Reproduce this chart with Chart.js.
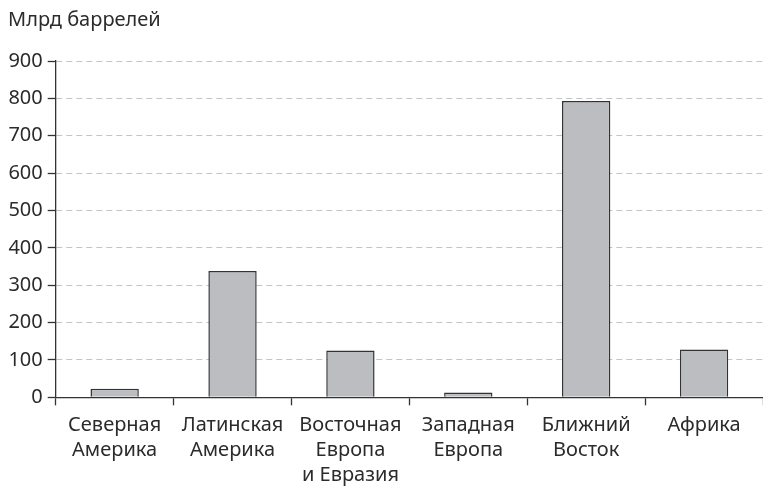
<!DOCTYPE html>
<html><head><meta charset="utf-8">
<script src="https://cdn.jsdelivr.net/npm/chart.js@4"></script>
<style>html,body{margin:0;padding:0;background:#fff;}#wrap{width:763px;height:486px;}</style>
</head><body><div id="wrap"><canvas id="c"></canvas></div>
<script>
const categories = [["Северная","Америка"],["Латинская","Америка"],["Восточная","Европа","и Евразия"],["Западная","Европа"],["Ближний","Восток"],["Африка"]];
const values = [23, 338, 125, 13, 793, 128];
const yTicks = [0,100,200,300,400,500,600,700,800,900];
const unitLabel = "Млрд баррелей";
const FONT = "'Noto Sans', sans-serif";
const TXT = "#2b2b2b";
new Chart(document.getElementById('c'), {
  type: 'bar',
  data: { labels: categories, datasets: [{ data: values, backgroundColor: '#bcbdc1', borderColor: '#333', borderWidth: 1.5, categoryPercentage: 1, barPercentage: 0.41 }] },
  options: {
    responsive: true, maintainAspectRatio: false, animation: false,
    layout: { padding: { left: 8, right: 0, top: 0, bottom: 0 } },
    plugins: {
      legend: { display: false }, tooltip: { enabled: false },
      title: { display: true, text: unitLabel, align: 'start', color: TXT, font: { family: FONT, size: 20, weight: 'normal', lineHeight: 1.2 }, padding: { top: 8, bottom: 29 } }
    },
    scales: {
      x: {
        offset: true,
        grid: { offset: true, drawOnChartArea: false, tickLength: 8, color: '#333', tickWidth: 1.3 },
        border: { color: '#333', width: 1.3 },
        ticks: { color: TXT, font: { family: FONT, size: 20, lineHeight: 1.25 }, padding: 7, maxRotation: 0, autoSkip: false },
        afterFit: s => { s.height = 88.7; }
      },
      y: {
        min: 0, max: 900,
        afterBuildTicks: s => { s.ticks = yTicks.map(v => ({ value: v })); },
        grid: { color: '#c4c4c4', lineWidth: 1, tickLength: 8, tickColor: '#333', tickWidth: 1.3, drawTicks: true },
        border: { color: '#333', width: 1.3, dash: [6, 4] },
        ticks: { color: TXT, font: { family: FONT, size: 20 }, padding: 5 },
        afterFit: s => { s.width = 47.7; }
      }
    }
  }
});
</script></body></html>
